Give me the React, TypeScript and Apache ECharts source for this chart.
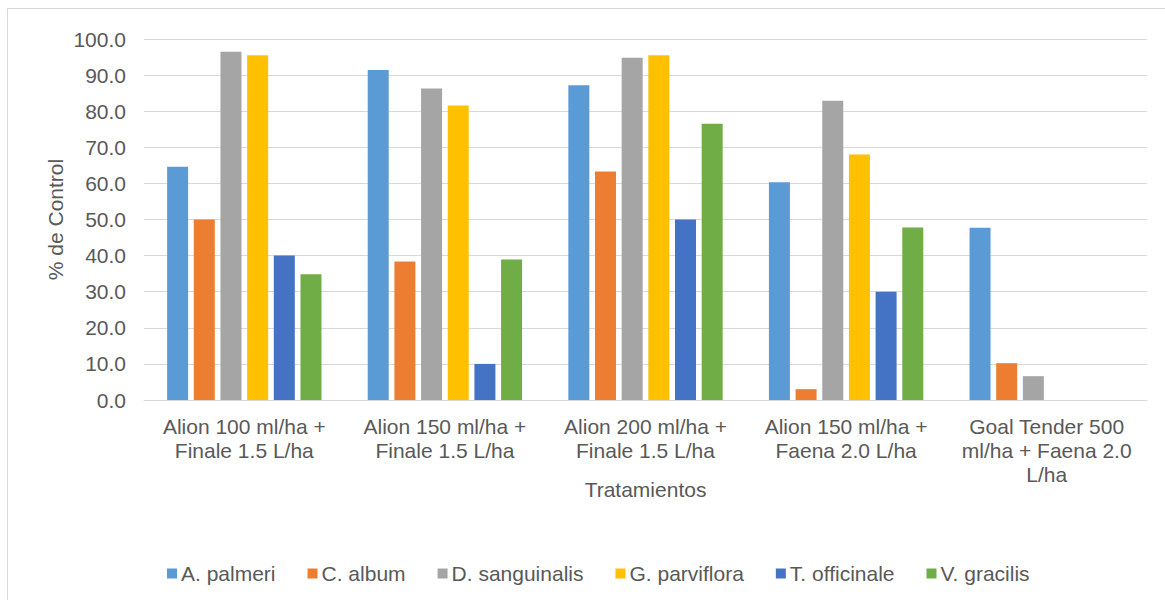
import React, { useEffect, useRef } from "react";
import * as echarts from "echarts";

const categories = [
  "Alion 100 ml/ha +\nFinale 1.5 L/ha",
  "Alion 150 ml/ha +\nFinale 1.5 L/ha",
  "Alion 200 ml/ha +\nFinale 1.5 L/ha",
  "Alion 150 ml/ha +\nFaena 2.0 L/ha",
  "Goal Tender 500\nml/ha + Faena 2.0\nL/ha",
];

const seriesNames = [
  "A. palmeri",
  "C. album",
  "D. sanguinalis",
  "G. parviflora",
  "T. officinale",
  "V. gracilis",
];

const aPalmeri = [64.6, 91.4, 87.2, 60.3, 47.7];
const cAlbum = [50.0, 38.4, 63.3, 3.0, 10.2];
const dSanguinalis = [96.5, 86.3, 94.8, 82.9, 6.6];
const gParviflora = [95.5, 81.6, 95.5, 68.0, 0];
const tOfficinale = [40.0, 10.0, 50.0, 30.0, 0];
const vGracilis = [34.8, 38.9, 76.5, 47.8, 0];

const seriesValues = [aPalmeri, cAlbum, dSanguinalis, gParviflora, tOfficinale, vGracilis];
const colors = ["#5B9BD5", "#ED7D31", "#A5A5A5", "#FFC000", "#4472C4", "#70AD47"];

const FONT = "'Liberation Sans', Arial, sans-serif";
const TEXT = "#595959";
const FS = 21;

export default function App() {
  const ref = useRef<HTMLDivElement>(null);
  useEffect(() => {
    if (!ref.current) return;
    const chart = echarts.init(ref.current, undefined, { renderer: "svg" });
    chart.setOption({
      animation: false,
      color: colors,
      textStyle: { fontFamily: FONT, color: TEXT },
      graphic: [
        {
          type: "rect",
          shape: { x: 7.5, y: 8.5, width: 1200, height: 700 },
          style: { fill: "none", stroke: "#D9D9D9", lineWidth: 1 },
          silent: true,
        },
      ],
      grid: { left: 144, right: 18, top: 39, bottom: 200 },
      legend: {
        top: 558,
        left: 162,
        itemWidth: 10,
        itemHeight: 10,
        itemGap: 32,
        icon: "rect",
        textStyle: { fontFamily: FONT, color: TEXT, fontSize: FS, padding: [0, 0, 0, -1] },
        data: seriesNames,
      },
      xAxis: {
        type: "category",
        data: categories,
        name: "Tratamientos",
        nameLocation: "middle",
        nameGap: 79,
        nameMoveOverlap: false,
        nameTextStyle: { fontFamily: FONT, color: TEXT, fontSize: FS },
        axisLine: { lineStyle: { color: "#D9D9D9", width: 1 } },
        axisTick: { show: false },
        axisLabel: {
          fontFamily: FONT,
          color: TEXT,
          fontSize: FS,
          lineHeight: 24,
          margin: 14,
          interval: 0,
        },
      },
      yAxis: {
        type: "value",
        min: 0,
        max: 100,
        interval: 10,
        name: "% de Control",
        nameLocation: "middle",
        nameGap: 78,
        nameRotate: 90,
        nameMoveOverlap: false,
        nameTextStyle: { fontFamily: FONT, color: TEXT, fontSize: FS },
        axisLine: { show: false },
        axisTick: { show: false },
        splitLine: { lineStyle: { color: "#D9D9D9", width: 1 } },
        axisLabel: {
          fontFamily: FONT,
          color: TEXT,
          fontSize: FS,
          margin: 18,
          formatter: (v: number) => v.toFixed(1),
        },
      },
      series: seriesNames.map((name, i) => ({
        name,
        type: "bar",
        data: seriesValues[i],
        barWidth: 21,
        barGap: "27%",
        itemStyle: { color: colors[i] },
      })),
    });
    return () => chart.dispose();
  }, []);
  return (
    <div
      ref={ref}
      style={{ position: "absolute", left: 0, top: 0, width: 1165, height: 600, background: "#fff" }}
    />
  );
}
